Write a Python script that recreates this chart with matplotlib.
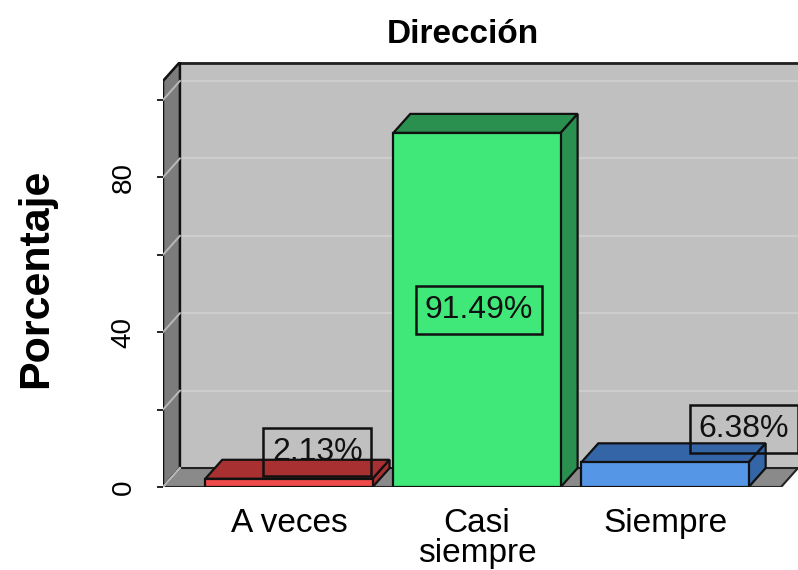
import numpy as np
import matplotlib
matplotlib.use("Agg")
import matplotlib.pyplot as plt
from matplotlib.patches import Polygon

plt.rcParams['font.family'] = ['Liberation Sans', 'DejaVu Sans']

# --- data ---
categories = ["A veces", "Casi\nsiempre", "Siempre"]
values = [2.13, 91.49, 6.38]
value_labels = ["2.13%", "91.49%", "6.38%"]
yticks = [0, 20, 40, 60, 80, 100]
ytick_labels = ["0", "", "40", "", "80", ""]

# --- style ---
front_colors = ["#ef4a4a", "#40e87a", "#5597e6"]
dark_colors = ["#a83030", "#2a9050", "#3465a6"]
lab_dx = [0.15, 0.01, 0.42]     # label offsets (category units)
lab_y = [9.0, None, 15.0]       # None -> middle of the bar

bar_w = 0.89
dx, dy = 0.09, 4.9              # 3D depth offset in data units
x_lo, x_hi = -0.67, 2.707
y_hi = 109.8

fig = plt.figure(figsize=(7.98, 5.70), dpi=100)
W, H = 798, 570
ax = fig.add_axes([163 / W, (570 - 487) / H, (798 - 163) / W, (487 - 62) / H])
ax.set_xlim(x_lo, x_hi)
ax.set_ylim(0, y_hi)
for s in ax.spines.values():
    s.set_visible(False)

# --- walls ---
back = Polygon([(x_lo + dx, dy), (x_lo + dx, y_hi), (x_hi, y_hi), (x_hi, dy)],
               closed=True, facecolor="#c0c0c0", edgecolor="none", zorder=1)
ax.add_patch(back)
ax.plot([x_lo + dx, x_hi], [y_hi - 0.3, y_hi - 0.3], color="#222222", lw=2, zorder=2,
        clip_on=False)
for t in yticks[1:]:
    ax.plot([x_lo + dx, x_hi], [t + dy, t + dy], color="#cdcdcd", lw=1.6, zorder=1.5)

left = Polygon([(x_lo, 0), (x_lo, y_hi - dy), (x_lo + dx, y_hi), (x_lo + dx, dy)],
               closed=True, facecolor="#7c7c7c", edgecolor="#111111", lw=1.8, zorder=2)
ax.add_patch(left)
for t in yticks:
    ax.plot([x_lo, x_lo + dx], [t, t + dy], color="#b8b8b8", lw=1.4, zorder=2.5)

floor = Polygon([(x_lo, 0), (x_lo + dx, dy), (x_hi, dy), (x_hi - dx, 0)],
                closed=True, facecolor="#8a8a8a", edgecolor="#222222", lw=1.5, zorder=2)
ax.add_patch(floor)
ax.plot([x_lo, x_lo + dx], [0, dy], color="#b8b8b8", lw=1.4, zorder=2.6)

# --- bars ---
x = np.arange(len(values))
for i, v in enumerate(values):
    x0, x1 = x[i] - bar_w / 2, x[i] + bar_w / 2
    top = Polygon([(x0, v), (x0 + dx, v + dy), (x1 + dx, v + dy), (x1, v)],
                  closed=True, facecolor=dark_colors[i], edgecolor="#111111", lw=1.6, zorder=3)
    side = Polygon([(x1, 0), (x1 + dx, dy), (x1 + dx, v + dy), (x1, v)],
                   closed=True, facecolor=dark_colors[i], edgecolor="#111111", lw=1.6, zorder=3)
    ax.add_patch(top)
    ax.add_patch(side)
    ax.bar(x[i], v, width=bar_w, color=front_colors[i], edgecolor="#111111",
           linewidth=1.6, zorder=4)
    ly = v / 2 if lab_y[i] is None else lab_y[i]
    ax.text(x[i] + lab_dx[i], ly, value_labels[i], ha="center", va="center",
            fontsize=23, color="#111111", zorder=6,
            bbox=dict(boxstyle="square,pad=0.28", facecolor="none",
                      edgecolor="#111111", linewidth=1.8))

# --- axes text ---
ax.set_yticks(yticks)
ax.set_yticklabels(ytick_labels, rotation=90, va="center", fontsize=20)
ax.tick_params(axis="y", length=4, width=1.2, pad=15)
ax.set_xticks(x)
ax.set_xticklabels(categories, fontsize=24, linespacing=0.95)
ax.tick_params(axis="x", length=0, pad=15)

ax.set_ylabel("Porcentaje", fontsize=31, fontweight="bold", va="center")
ax.yaxis.set_label_coords(-0.2, 0.49)
ax.set_title("Dirección", fontsize=24, fontweight="bold", x=0.472, pad=14)

fig.savefig("out.png", dpi=100)
